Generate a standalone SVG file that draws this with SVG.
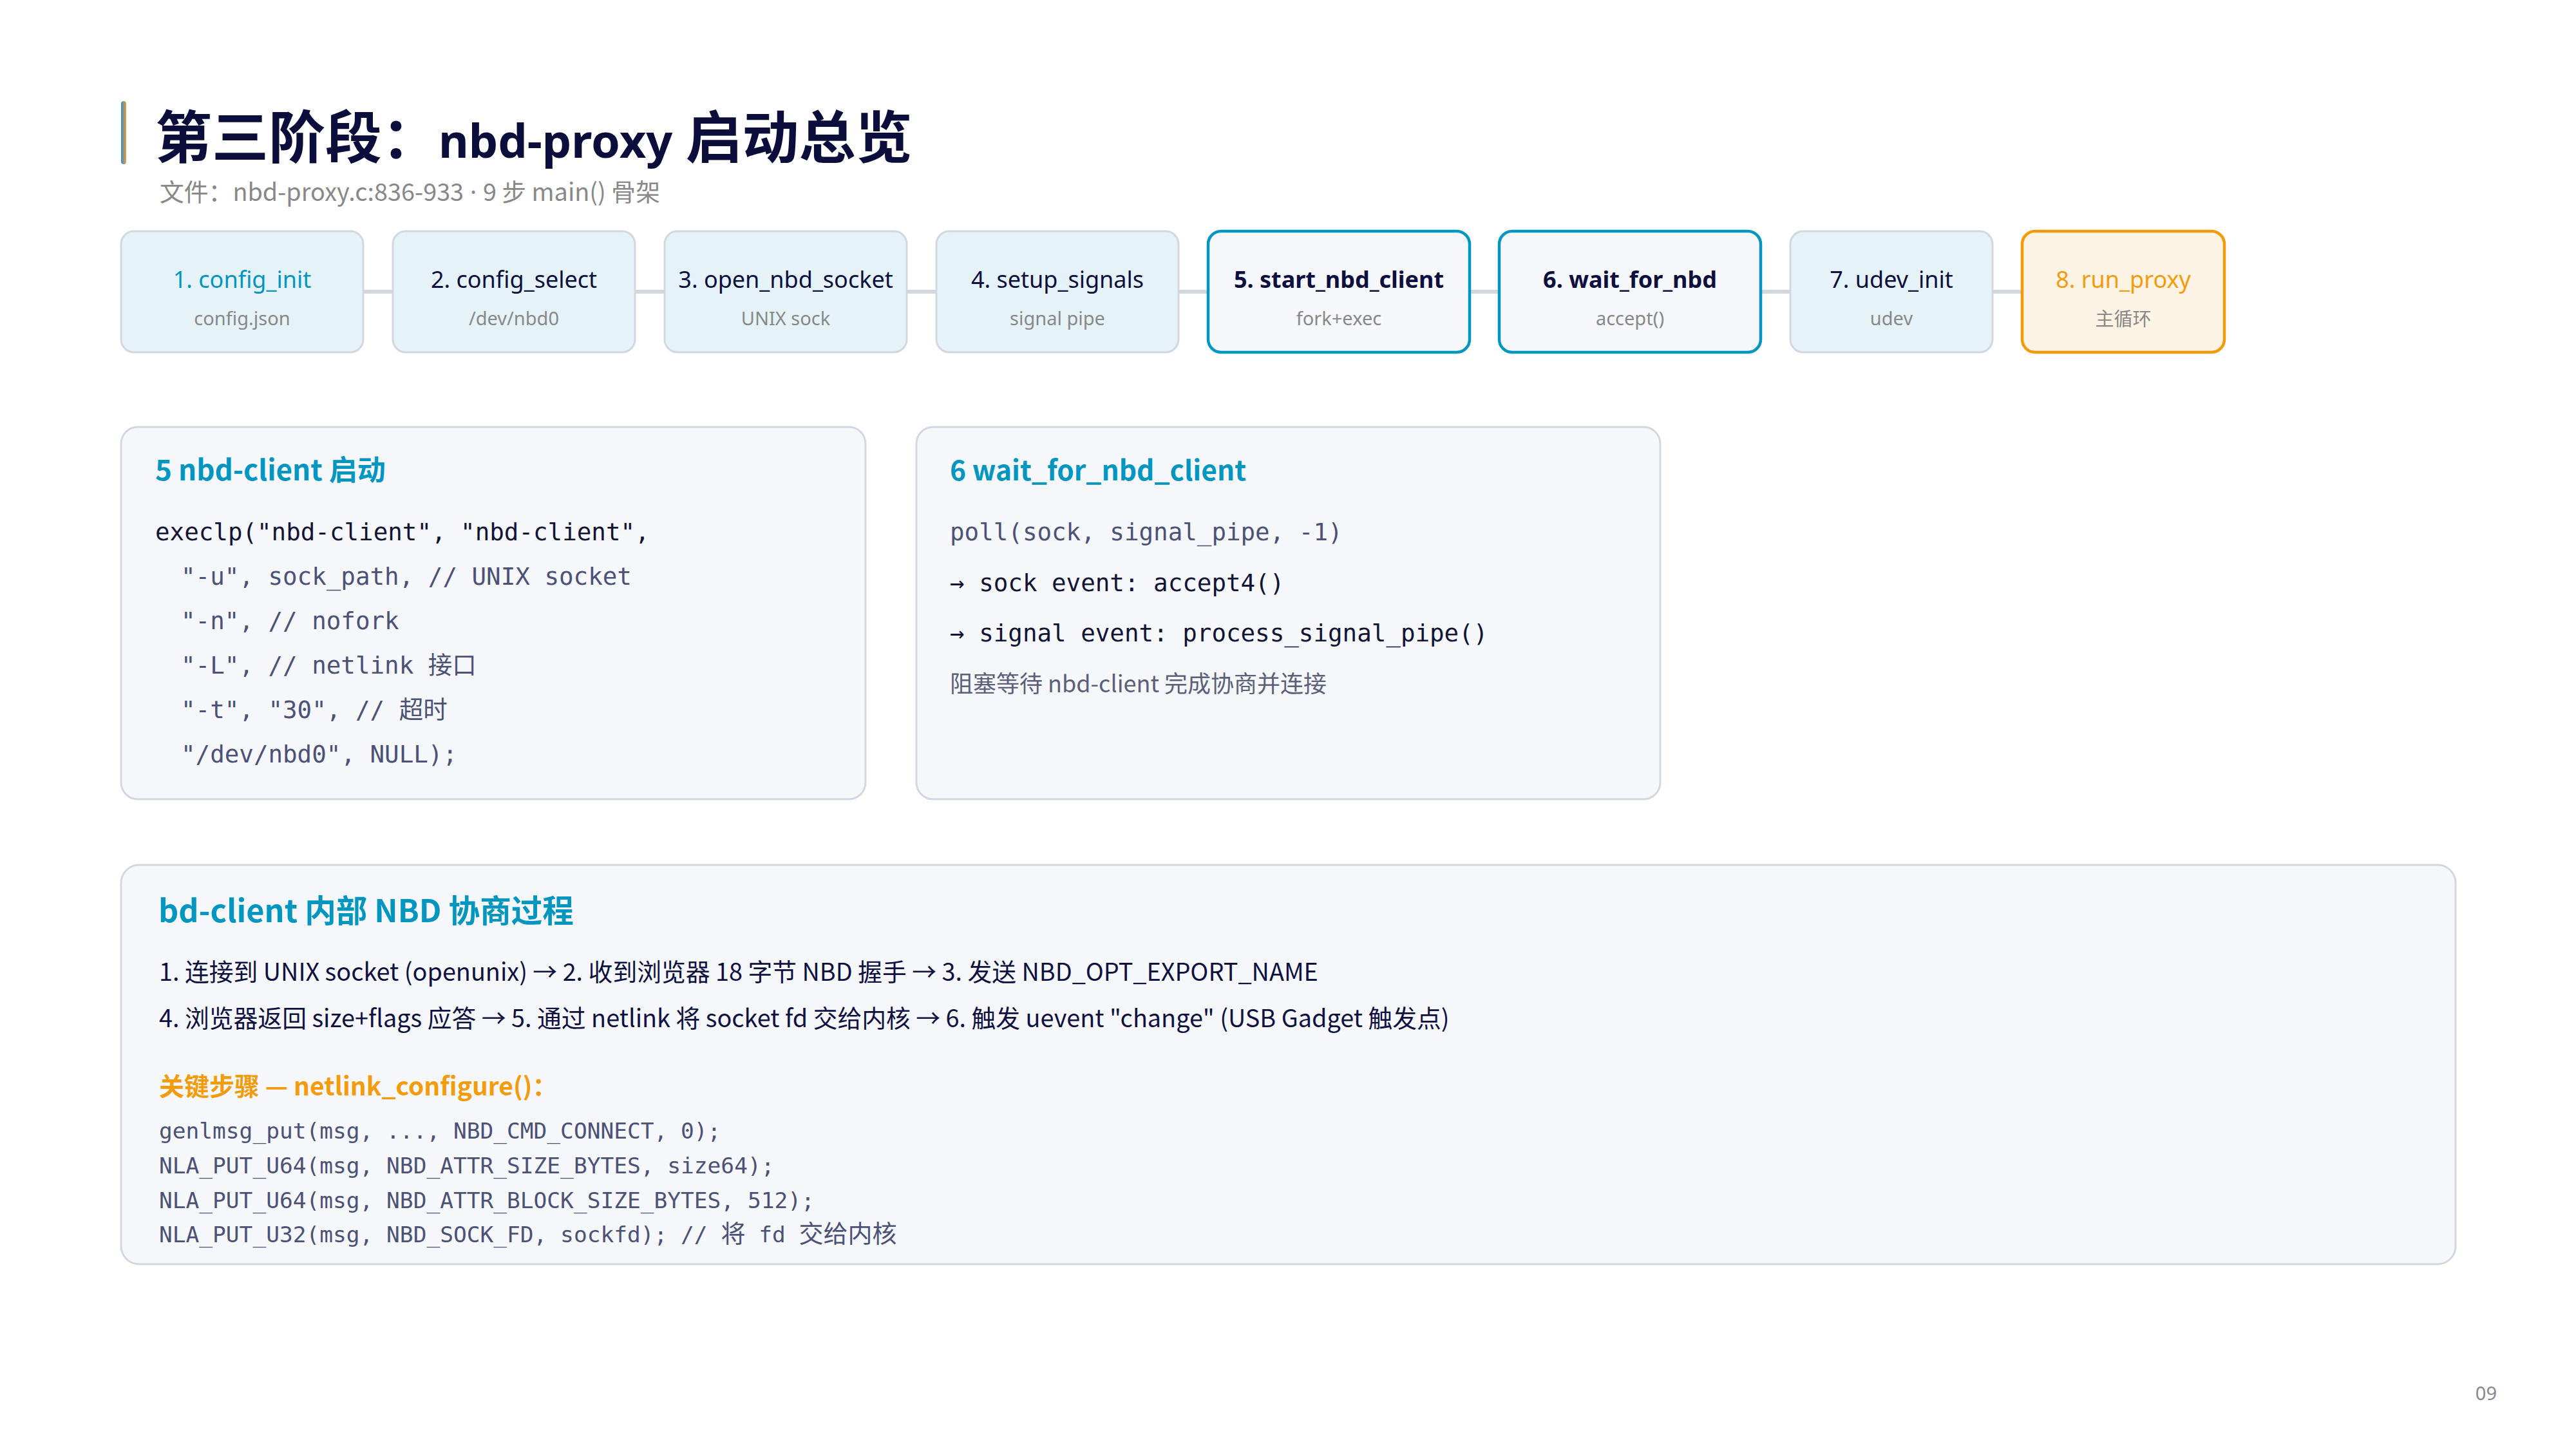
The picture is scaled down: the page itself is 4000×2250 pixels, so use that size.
<svg xmlns="http://www.w3.org/2000/svg" width="4000" height="2250" viewBox="0 0 4000 2250">
<defs>
<linearGradient id="acc" x1="0" y1="0" x2="1" y2="0">
<stop offset="0" stop-color="#2F8FC0"/>
<stop offset="1" stop-color="#F0A040"/>
</linearGradient>
</defs>
<style>
.sans{font-family:"Noto Sans","Noto Sans CJK SC",sans-serif}
.cjk{font-family:"Noto Sans CJK SC","Noto Sans",sans-serif}
.mono{font-family:"DejaVu Sans Mono","Noto Sans CJK SC",monospace}
.box{fill:#E5F3F9;stroke:#D3D7DF;stroke-width:3}
.boxa{fill:#F5F7FB;stroke:#0096C0;stroke-width:4.5}
.boxo{fill:#FDF3E4;stroke:#F29C0C;stroke-width:4.5}
.card{fill:#F5F7FB;stroke:#D4D7DF;stroke-width:3}
.nt{font-size:36px;fill:#0D0F3F;text-anchor:middle}
.ns{font-size:29px;fill:#888888;text-anchor:middle}
.conn{stroke:#D3D7DF;stroke-width:6;fill:none}
.h{font-weight:700;fill:#0096C0}
.dark{fill:#121436}
.gray{fill:#4B5275}
</style>
<rect width="4000" height="2250" fill="#FFFFFF"/>

<g id="header">
<rect x="188" y="157" width="8" height="98" rx="4" fill="url(#acc)"/>
<text x="241" y="245" font-weight="700" fill="#0B0D3A"><tspan class="cjk" font-size="88">第三阶段：</tspan><tspan class="sans" font-size="72">nbd-proxy</tspan><tspan class="cjk" font-size="88"> 启动总览</tspan></text>
<text class="cjk" x="248" y="312" font-size="37.8" fill="#888888">文件：nbd-proxy.c:836-933<tspan class="sans"> · </tspan>9 步 main() 骨架</text>
</g>

<g id="connectors">
<line class="conn" x1="564" y1="453" x2="610" y2="453"/>
<line class="conn" x1="986" y1="453" x2="1032" y2="453"/>
<line class="conn" x1="1408" y1="453" x2="1454" y2="453"/>
<line class="conn" x1="1830" y1="453" x2="1876" y2="453"/>
<line class="conn" x1="2282" y1="453" x2="2328" y2="453"/>
<line class="conn" x1="2734" y1="453" x2="2780" y2="453"/>
<line class="conn" x1="3094" y1="453" x2="3140" y2="453"/>
</g>

<g id="node1">
<rect class="box" x="188" y="359" width="376" height="188" rx="20"/>
<text class="sans nt" x="376" y="447" style="fill:#0096C0">1. config_init</text>
<text class="sans ns" x="376" y="505">config.json</text>
</g>
<g id="node2">
<rect class="box" x="610" y="359" width="376" height="188" rx="20"/>
<text class="sans nt" x="798" y="447">2. config_select</text>
<text class="sans ns" x="798" y="505">/dev/nbd0</text>
</g>
<g id="node3">
<rect class="box" x="1032" y="359" width="376" height="188" rx="20"/>
<text class="sans nt" x="1220" y="447">3. open_nbd_socket</text>
<text class="sans ns" x="1220" y="505">UNIX sock</text>
</g>
<g id="node4">
<rect class="box" x="1454" y="359" width="376" height="188" rx="20"/>
<text class="sans nt" x="1642" y="447">4. setup_signals</text>
<text class="sans ns" x="1642" y="505">signal pipe</text>
</g>
<g id="node5">
<rect class="boxa" x="1876" y="359" width="406" height="188" rx="20"/>
<text class="sans nt" x="2079" y="447" font-weight="700" font-size="35">5. start_nbd_client</text>
<text class="sans ns" x="2079" y="505">fork+exec</text>
</g>
<g id="node6">
<rect class="boxa" x="2328" y="359" width="406" height="188" rx="20"/>
<text class="sans nt" x="2531" y="447" font-weight="700" font-size="35">6. wait_for_nbd</text>
<text class="sans ns" x="2531" y="505">accept()</text>
</g>
<g id="node7">
<rect class="box" x="2780" y="359" width="314" height="188" rx="20"/>
<text class="sans nt" x="2937" y="447">7. udev_init</text>
<text class="sans ns" x="2937" y="505">udev</text>
</g>
<g id="node8">
<rect class="boxo" x="3140" y="359" width="314" height="188" rx="20"/>
<text class="sans nt" x="3297" y="447" style="fill:#F29C0C">8. run_proxy</text>
<text class="cjk ns" x="3297" y="506" font-size="35">主循环</text>
</g>

<g id="card-start-client">
<rect class="card" x="188" y="663" width="1156" height="578" rx="26"/>
<text class="cjk h" x="241" y="746" font-size="44">5 nbd-client 启动</text>
<g class="mono" font-size="37.5">
<text class="dark" x="241" y="839">execlp("nbd-client", "nbd-client",</text>
<text class="gray" x="281" y="908">"-u", sock_path, // UNIX socket</text>
<text class="gray" x="281" y="977">"-n", // nofork</text>
<text class="gray" x="281" y="1046">"-L", // netlink 接口</text>
<text class="gray" x="281" y="1115">"-t", "30", // 超时</text>
<text class="gray" x="281" y="1184">"/dev/nbd0", NULL);</text>
</g>
</g>

<g id="card-wait">
<rect class="card" x="1423" y="663" width="1155" height="578" rx="26"/>
<text class="cjk h" x="1475" y="746" font-size="42.5">6 wait_for_nbd_client</text>
<g class="mono" font-size="37.5">
<text class="gray" x="1475" y="839">poll(sock, signal_pipe, -1)</text>
<text class="dark" x="1475" y="918">→ sock event: accept4()</text>
<text class="dark" x="1475" y="996">→ signal event: process_signal_pipe()</text>
</g>
<text class="cjk" x="1475" y="1075" font-size="36" fill="#5B6078">阻塞等待 nbd-client 完成协商并连接</text>
</g>

<g id="card-negotiation">
<rect class="card" x="188" y="1343" width="3625" height="620" rx="28"/>
<text class="cjk h" x="246" y="1432" font-size="48.6">bd-client 内部 NBD 协商过程</text>
<text class="cjk" x="247" y="1523" font-size="37.8" fill="#0F1140">1. 连接到 UNIX socket (openunix) → 2. 收到浏览器 18 字节 NBD 握手 → 3. 发送 NBD_OPT_EXPORT_NAME</text>
<text class="cjk" x="247" y="1595" font-size="37.8" fill="#0F1140">4. 浏览器返回 size+flags 应答 → 5. 通过 netlink 将 socket fd 交给内核 → 6. 触发 uevent "change" (USB Gadget 触发点)</text>
<text class="cjk" x="247" y="1701" font-size="39" font-weight="700" fill="#F29C0C">关键步骤 — netlink_configure()：</text>
<g class="mono gray" font-size="34.5">
<text x="247" y="1768">genlmsg_put(msg, ..., NBD_CMD_CONNECT, 0);</text>
<text x="247" y="1822">NLA_PUT_U64(msg, NBD_ATTR_SIZE_BYTES, size64);</text>
<text x="247" y="1876">NLA_PUT_U64(msg, NBD_ATTR_BLOCK_SIZE_BYTES, 512);</text>
<text x="247" y="1929">NLA_PUT_U32(msg, NBD_SOCK_FD, sockfd); // <tspan font-size="38">将</tspan> fd <tspan font-size="38">交给内核</tspan></text>
</g>
</g>

<text class="sans" x="3877" y="2174" font-size="29" fill="#888888" text-anchor="end">09</text>
</svg>
